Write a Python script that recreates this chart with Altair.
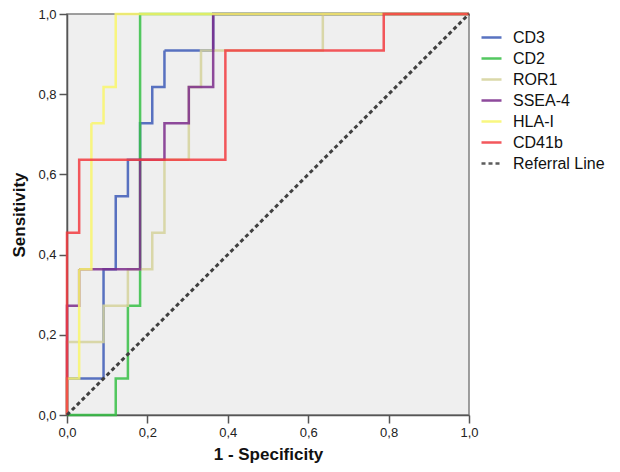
import altair as alt
import pandas as pd

series = ["CD3", "CD2", "ROR1", "SSEA-4", "HLA-I", "CD41b", "Referral Line"]
colors = ["#3d5bb7", "#36bf45", "#d5d29b", "#7b2b8b", "#f9f66b", "#f23b40", "#404040"]
dashes = [[1, 0], [1, 0], [1, 0], [1, 0], [1, 0], [1, 0], [4, 3]]

# step coordinates: x in units of 1/33 (1 - specificity), y in units of 1/11 (sensitivity)
cd3_x = [0, 0, 3, 3, 4, 4, 5, 5, 6, 6, 7, 7, 8, 8, 12, 12, 33]
cd3_y = [0, 1, 1, 4, 4, 6, 6, 7, 7, 8, 8, 9, 9, 10, 10, 11, 11]
cd2_x = [0, 4, 4, 5, 5, 6, 6, 33]
cd2_y = [0, 0, 1, 1, 3, 3, 11, 11]
ror1_x = [0, 0, 3, 3, 5, 5, 7, 7, 8, 8, 10, 10, 11, 11, 21, 21, 33]
ror1_y = [0, 2, 2, 3, 3, 4, 4, 5, 5, 7, 7, 9, 9, 10, 10, 11, 11]
ssea4_x = [0, 0, 1, 1, 6, 6, 8, 8, 10, 10, 12, 12, 33]
ssea4_y = [0, 3, 3, 4, 4, 7, 7, 8, 8, 9, 9, 11, 11]
hla_x = [0, 0, 1, 1, 2, 2, 3, 3, 4, 4, 33]
hla_y = [0, 1, 1, 4, 4, 8, 8, 9, 9, 11, 11]
cd41b_x = [0, 0, 1, 1, 13, 13, 26, 26, 33]
cd41b_y = [0, 5, 5, 7, 7, 10, 10, 11, 11]
ref_x = [0, 33]
ref_y = [0, 11]

curves = {
    "CD3": (cd3_x, cd3_y),
    "CD2": (cd2_x, cd2_y),
    "ROR1": (ror1_x, ror1_y),
    "SSEA-4": (ssea4_x, ssea4_y),
    "HLA-I": (hla_x, hla_y),
    "CD41b": (cd41b_x, cd41b_y),
    "Referral Line": (ref_x, ref_y),
}

rows = []
for name, (xs, ys) in curves.items():
    for i, (a, b) in enumerate(zip(xs, ys)):
        rows.append({"series": name, "idx": i, "fpr": a / 33, "tpr": b / 11})
df = pd.DataFrame(rows)

label_expr = "replace(format(datum.value, '.1f'), '.', ',')"
ticks = [0, 0.2, 0.4, 0.6, 0.8, 1.0]

x_enc = alt.X("fpr:Q", scale=alt.Scale(domain=[0, 1], nice=False),
              axis=alt.Axis(values=ticks, labelExpr=label_expr, title="1 - Specificity",
                            titlePadding=7, labelFlush=False))
y_enc = alt.Y("tpr:Q", scale=alt.Scale(domain=[0, 1], nice=False),
              axis=alt.Axis(values=ticks, labelExpr=label_expr, title="Sensitivity",
                            titlePadding=9, labelFlush=False))
legend_kw = dict(title=None, orient="none", legendX=413, legendY=12,
                 symbolType="stroke", symbolSize=400, symbolStrokeWidth=2.5,
                 labelFontSize=16, labelFont="Liberation Sans", labelColor="#111",
                 rowPadding=1, labelOffset=10)
color_enc = alt.Color("series:N", scale=alt.Scale(domain=series, range=colors),
                      legend=alt.Legend(**legend_kw))
dash_enc = alt.StrokeDash("series:N", scale=alt.Scale(domain=series, range=dashes),
                          legend=alt.Legend(**legend_kw))

layers = []
for s in series:
    sw = 3 if s == "Referral Line" else 2.5
    layers.append(
        alt.Chart(df).transform_filter(alt.datum.series == s)
        .mark_line(strokeWidth=sw, opacity=0.85 if s != "Referral Line" else 1)
        .encode(x=x_enc, y=y_enc, order="idx:Q", color=color_enc, strokeDash=dash_enc)
    )

chart = alt.layer(*layers).properties(
    width=402, height=401,
    autosize=alt.AutoSizeParams(type="none"),
    padding={"left": 59, "top": 6, "right": 143, "bottom": 55},
).configure_view(fill="#efefef", stroke="#808080", strokeWidth=1.5).configure_axis(
    grid=False, domainColor="#555", domainWidth=1.5, tickColor="#555", tickSize=8,
    tickWidth=1.5, labelFont="Liberation Sans", labelFontSize=13, labelColor="#222",
    titleFont="Liberation Sans", titleFontSize=17, titleFontWeight="bold", titleColor="#111",
    labelPadding=3,
)

chart.save("out.html", embed_options={"renderer": "svg", "actions": False})
